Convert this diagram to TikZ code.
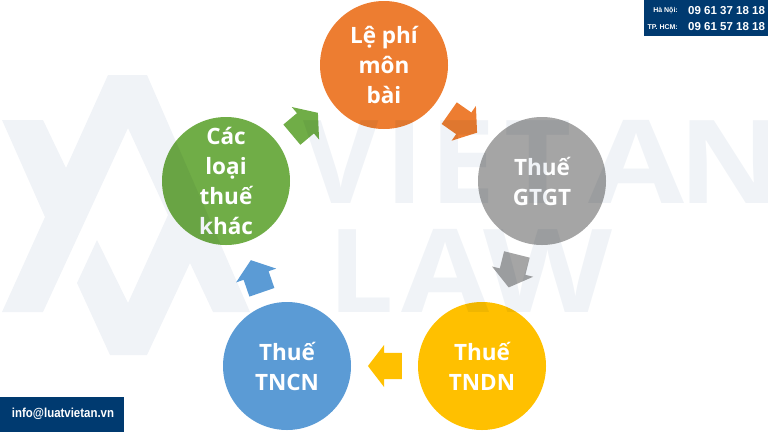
\documentclass[tikz,border=0pt]{standalone}
\usepackage{fontspec}
\setmainfont{Open Sans}
\newfontfamily\badgefont{Liberation Sans}
\usetikzlibrary{shapes.arrows}
\definecolor{orangefee}{HTML}{ED7D31}
\definecolor{grayvat}{HTML}{A5A5A5}
\definecolor{yellowcit}{HTML}{FFC000}
\definecolor{bluepit}{HTML}{5B9BD5}
\definecolor{greenother}{HTML}{70AD47}
\definecolor{badgeblue}{HTML}{003A70}
\definecolor{markgray}{HTML}{F0F3F7}
\tikzset{
	taxcircle/.style = {circle, minimum size=128pt, inner sep=0pt, text=white, align=center, font=\fontsize{22.5}{30}\selectfont\bfseries},
	flowarrow/.style = {single arrow, minimum height=34pt, inner xsep=0pt, inner ysep=13pt, single arrow head extend=8pt, single arrow tip angle=105},
	markletter/.style = {anchor=base, inner sep=0pt, text=markgray, font=\fontsize{116}{116}\selectfont\bfseries},
	badge/.style = {fill=badgeblue, inner sep=0pt, anchor=north west},
	badgetext/.style = {text=white, inner sep=0pt, font=\badgefont\bfseries}
}
\begin{document}
\begin{tikzpicture}[x=1pt,y=-1pt]
		\useasboundingbox (0,0) rectangle (768,432);
		\clip (0,0) rectangle (768,432);
		%
		\node (fee) [taxcircle, fill=orangefee] at (384,65) {Lệ phí\\môn\\bài};
		\node (vat) [taxcircle, fill=grayvat] at (542,181) {Thuế\\GTGT};
		\node (cit) [taxcircle, fill=yellowcit] at (482,366) {Thuế\\TNDN};
		\node (pit) [taxcircle, fill=bluepit] at (287,366) {Thuế\\TNCN};
		\node (other) [taxcircle, fill=greenother] at (226,181) {Các\\loại\\thuế\\khác};
		%
		\node (feevat) [flowarrow, fill=orangefee, rotate=-35] at (459,120) {};
		\node (vatcit) [flowarrow, fill=grayvat, rotate=-104] at (514,266) {};
		\node (citpit) [flowarrow, fill=yellowcit, rotate=180] at (390,366) {};
		\node (pitother) [flowarrow, fill=bluepit, rotate=109] at (258,281) {};
		\node (otherfee) [flowarrow, fill=greenother, rotate=40] at (301,127) {};
		%
		\begin{scope}[blend mode=multiply]
			\fill [markgray] (2,120) -- (43,120) -- (66,168) -- (108,75) -- (147,75) -- (250,312) -- (213,312) -- (190,263) -- (147,355) -- (110,355) -- (77,283) -- (97,240) -- (128,303) -- (168,215) -- (128,128) -- (43,312) -- (2,312) -- (45,217) -- cycle;
			\foreach \letter/\posx in {V/341,I/405,E/463,T/538}
				\node (mark\letter) [markletter] at (\posx,203) {\letter};
			\node (markA) [markletter, xscale=1.2] at (637,203) {A};
			\node (markN) [markletter, xscale=1.1] at (730,203) {N};
			\node (markL) [markletter] at (361,312) {L};
			\node (markAb) [markletter, xscale=1.1] at (446,312) {A};
			\node (markW) [markletter, xscale=1.15] at (548,312) {W};
		\end{scope}
		%
		\node (phone) [badge, minimum width=124pt, minimum height=36pt] at (644,0) {};
		\node (hanoi) [badgetext, anchor=east, font=\fontsize{7}{7}\selectfont\badgefont\bfseries] at (678,11) {Hà Nội:};
		\node (hcm) [badgetext, anchor=east, font=\fontsize{7}{7}\selectfont\badgefont\bfseries] at (678,27) {TP. HCM:};
		\node (hanoinum) [badgetext, anchor=west, font=\fontsize{11.5}{12}\selectfont\badgefont\bfseries] at (688,11) {09 61 37 18 18};
		\node (hcmnum) [badgetext, anchor=west, font=\fontsize{11.5}{12}\selectfont\badgefont\bfseries] at (688,27) {09 61 57 18 18};
		%
		\node (mail) [badge, minimum width=124pt, minimum height=35pt] at (0,397) {};
		\node (mailtext) [badgetext, xscale=0.88, font=\fontsize{13}{13}\selectfont\badgefont\bfseries] at (63,414) {info@luatvietan.vn};
	\end{tikzpicture}
\end{document}
